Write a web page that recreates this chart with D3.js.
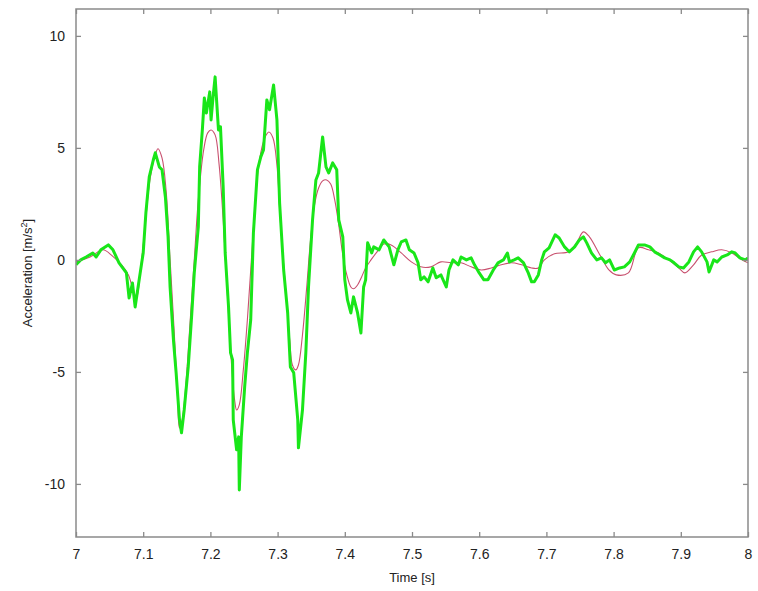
<!DOCTYPE html>
<html>
<head>
<meta charset="utf-8">
<script src="https://cdn.jsdelivr.net/npm/d3@7"></script>
<style>
  html, body { margin: 0; padding: 0; background: #fff; }
  svg { display: block; }
  text { font-family: Arial, "Liberation Sans", sans-serif; fill: #222; }
</style>
</head>
<body>
<svg id="chart" width="758" height="591"></svg>
<script>
// Measured acceleration (green)
const measTime = [7.000,7.007,7.015,7.025,7.030,7.037,7.048,7.055,7.064,7.075,7.079,7.084,7.088,7.094,7.100,7.104,7.109,7.115,7.118,7.124,7.128,7.133,7.137,7.140,7.145,7.149,7.154,7.157,7.161,7.167,7.172,7.176,7.182,7.184,7.188,7.191,7.194,7.199,7.201,7.204,7.207,7.212,7.215,7.219,7.222,7.227,7.230,7.233,7.234,7.239,7.242,7.243,7.246,7.251,7.255,7.260,7.264,7.270,7.275,7.279,7.284,7.288,7.294,7.299,7.303,7.309,7.315,7.319,7.324,7.330,7.331,7.337,7.342,7.346,7.352,7.357,7.361,7.367,7.372,7.376,7.382,7.388,7.391,7.397,7.400,7.404,7.409,7.413,7.419,7.424,7.428,7.431,7.434,7.440,7.443,7.451,7.458,7.466,7.473,7.479,7.484,7.491,7.496,7.503,7.509,7.513,7.518,7.524,7.531,7.536,7.543,7.551,7.555,7.561,7.569,7.573,7.581,7.588,7.593,7.600,7.607,7.613,7.621,7.628,7.636,7.642,7.645,7.652,7.658,7.666,7.673,7.678,7.682,7.688,7.693,7.697,7.704,7.713,7.719,7.727,7.734,7.742,7.749,7.755,7.760,7.767,7.775,7.782,7.788,7.794,7.801,7.809,7.816,7.824,7.831,7.837,7.846,7.854,7.861,7.869,7.876,7.884,7.890,7.897,7.904,7.912,7.919,7.925,7.931,7.939,7.942,7.949,7.954,7.961,7.969,7.976,7.981,7.988,7.996,8.000];
const measAcc = [-0.22,0.00,0.13,0.31,0.13,0.45,0.67,0.45,-0.13,-0.58,-1.70,-1.03,-2.10,-0.89,0.31,2.10,3.71,4.46,4.78,4.15,4.02,2.81,1.03,-1.21,-3.57,-5.04,-7.14,-7.72,-6.70,-4.78,-2.54,-0.58,1.47,4.15,5.80,7.23,6.56,7.50,6.25,7.28,8.17,5.80,5.94,3.26,0.31,-2.10,-4.15,-4.46,-7.14,-8.48,-7.90,-10.27,-7.90,-5.67,-4.15,-2.68,1.21,4.02,4.60,4.91,7.14,6.70,7.81,6.25,2.54,-0.45,-2.37,-4.78,-5.04,-7.14,-8.39,-6.70,-4.15,-1.21,1.79,3.57,3.88,5.49,4.15,3.88,4.33,4.02,1.79,1.03,-0.89,-1.79,-2.37,-1.65,-2.37,-3.26,-1.21,-0.89,0.76,0.31,0.58,0.45,0.89,0.58,-0.22,0.45,0.80,0.89,0.45,0.31,-0.13,-0.89,-0.76,-0.98,-0.36,-0.80,-0.67,-1.21,-0.45,0.00,-0.22,0.13,0.00,0.09,-0.22,-0.58,-0.89,-0.89,-0.45,-0.13,0.00,0.31,-0.09,0.00,0.09,-0.13,-0.58,-0.98,-0.98,-0.67,0.00,0.36,0.54,1.12,0.98,0.58,0.36,0.58,0.89,1.03,0.76,0.31,0.00,0.09,-0.13,0.00,-0.45,-0.36,-0.31,-0.09,0.31,0.67,0.67,0.58,0.36,0.22,0.09,0.00,-0.13,-0.31,-0.36,-0.09,0.36,0.58,0.36,-0.09,-0.54,0.00,-0.09,0.13,0.22,0.36,0.31,0.09,0.00,0.09];

// Simulated acceleration (red)
const simTime = [7.000,7.021,7.040,7.054,7.069,7.078,7.085,7.090,7.096,7.103,7.110,7.118,7.122,7.128,7.134,7.140,7.146,7.151,7.154,7.158,7.164,7.170,7.176,7.182,7.190,7.196,7.201,7.207,7.213,7.219,7.225,7.231,7.236,7.239,7.243,7.249,7.255,7.261,7.267,7.273,7.281,7.287,7.293,7.299,7.304,7.312,7.318,7.322,7.327,7.331,7.337,7.343,7.349,7.355,7.361,7.367,7.373,7.379,7.385,7.391,7.397,7.403,7.409,7.413,7.419,7.425,7.431,7.439,7.448,7.458,7.469,7.484,7.499,7.513,7.528,7.543,7.558,7.573,7.588,7.603,7.618,7.633,7.648,7.663,7.678,7.688,7.697,7.712,7.733,7.745,7.755,7.764,7.778,7.793,7.804,7.822,7.837,7.852,7.867,7.882,7.897,7.906,7.919,7.931,7.946,7.961,7.976,7.991,8.000];
const simAcc = [-0.09,0.13,0.45,0.18,-0.27,-0.67,-1.34,-1.70,-0.45,1.56,3.57,4.69,4.96,4.55,3.13,0.00,-3.13,-6.03,-7.50,-7.14,-5.36,-2.68,0.00,2.68,4.91,5.67,5.80,5.58,4.24,1.79,-1.34,-4.46,-6.25,-6.70,-6.47,-4.91,-2.68,0.00,2.68,4.46,5.45,5.71,5.45,4.24,1.79,-1.34,-3.57,-4.69,-4.91,-4.69,-3.35,-1.34,0.89,2.46,3.21,3.53,3.57,3.39,2.68,1.56,0.22,-0.67,-1.21,-1.29,-1.12,-0.76,-0.36,0.00,0.36,0.71,0.67,0.31,-0.09,-0.31,-0.31,-0.09,-0.13,-0.13,-0.31,-0.45,-0.36,-0.22,-0.13,-0.22,-0.36,-0.36,0.00,0.27,0.36,0.76,1.25,1.03,0.31,-0.45,-0.67,-0.58,0.54,0.45,0.31,0.00,-0.36,-0.58,-0.22,0.22,0.36,0.45,0.31,0.00,-0.13];

const xTicks = [7, 7.1, 7.2, 7.3, 7.4, 7.5, 7.6, 7.7, 7.8, 7.9, 8];
const yTicks = [-10, -5, 0, 5, 10];
const xLabel = "Time [s]";

const svg = d3.select("#chart");
const L = 76, R = 748, T = 9, B = 537;
const x = d3.scaleLinear().domain([7, 8]).range([L, R]);
const y = d3.scaleLinear().domain([-12.37, 11.2]).range([B, T]);

const axisColor = "#8a8a8a";
const tickLen = 5;
const fmt = d => String(d);

svg.append("defs").append("clipPath").attr("id", "clip")
  .append("rect").attr("x", L).attr("y", T).attr("width", R - L).attr("height", B - T);

const g = svg.append("g").attr("clip-path", "url(#clip)");

g.append("path")
  .datum(simTime.map((t, i) => [t, simAcc[i]]))
  .attr("d", d3.line().x(d => x(d[0])).y(d => y(d[1])).curve(d3.curveCatmullRom.alpha(0.5)))
  .attr("fill", "none")
  .attr("stroke", "#c8506e").attr("stroke-width", 1.1);

g.append("path")
  .datum(measTime.map((t, i) => [t, measAcc[i]]))
  .attr("d", d3.line().x(d => x(d[0])).y(d => y(d[1])))
  .attr("fill", "none")
  .attr("stroke", "#19e619").attr("stroke-width", 3)
  .attr("stroke-linejoin", "round");

function styleAxis(sel) {
  sel.select(".domain").remove();
  sel.selectAll(".tick line").attr("stroke", axisColor).attr("stroke-width", 1.3);
  sel.selectAll(".tick text").attr("fill", "#222").style("font-size", "14px");
}

svg.append("g").attr("transform", `translate(0,${B})`)
  .call(d3.axisBottom(x).tickValues(xTicks).tickSize(-tickLen).tickPadding(12).tickFormat(fmt))
  .call(styleAxis);
svg.append("g").attr("transform", `translate(0,${T})`)
  .call(d3.axisTop(x).tickValues(xTicks).tickSize(-tickLen).tickFormat(""))
  .call(styleAxis);
svg.append("g").attr("transform", `translate(${L},0)`)
  .call(d3.axisLeft(y).tickValues(yTicks).tickSize(-tickLen).tickPadding(11).tickFormat(fmt))
  .call(styleAxis);
svg.append("g").attr("transform", `translate(${R},0)`)
  .call(d3.axisRight(y).tickValues(yTicks).tickSize(-tickLen).tickFormat(""))
  .call(styleAxis);

svg.append("rect").attr("x", L).attr("y", T).attr("width", R - L).attr("height", B - T)
  .attr("fill", "none").attr("stroke", axisColor).attr("stroke-width", 1.5);

svg.append("text").attr("x", (L + R) / 2).attr("y", 582)
  .attr("text-anchor", "middle").style("font-size", "13px").text(xLabel);

const yl = svg.append("text")
  .attr("transform", `translate(32,${(T + B) / 2}) rotate(-90)`)
  .attr("text-anchor", "middle").style("font-size", "13px");
yl.append("tspan").text("Acceleration [m/s");
yl.append("tspan").attr("dy", -5).style("font-size", "9px").text("2");
yl.append("tspan").attr("dy", 5).text("]");
</script>
</body>
</html>
